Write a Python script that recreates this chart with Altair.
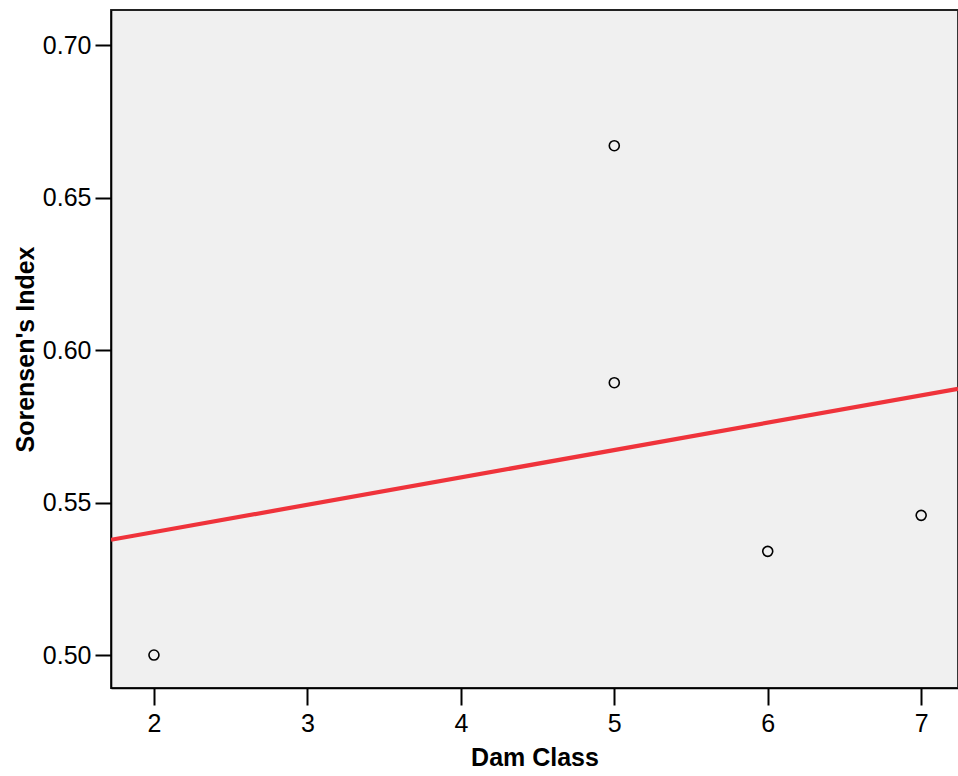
import altair as alt
import pandas as pd

dam_class = [2, 5, 5, 6, 7]
sorensen = [0.500, 0.667, 0.5893, 0.5340, 0.5458]
x_ticks = [2, 3, 4, 5, 6, 7]
y_ticks = [0.50, 0.55, 0.60, 0.65, 0.70]
x_domain = [1.72, 7.24]
y_domain = [0.4892, 0.7115]

df = pd.DataFrame({"dam": dam_class, "sor": sorensen})

FONT = "Liberation Sans"

x_enc = alt.X(
    "dam:Q",
    scale=alt.Scale(domain=x_domain, nice=False, zero=False),
    axis=alt.Axis(
        values=x_ticks, format="d", title="Dam Class", grid=False,
        tickSize=17, tickWidth=2, tickColor="black",
        domainColor="black", domainWidth=1.6,
        labelFontSize=25, labelFont=FONT, labelColor="black", labelPadding=6,
        titleFontSize=25, titleFont=FONT, titleFontWeight="bold", titleColor="black",
        titleBaseline="alphabetic", titleY=77,
    ),
)
y_enc = alt.Y(
    "sor:Q",
    scale=alt.Scale(domain=y_domain, nice=False, zero=False),
    axis=alt.Axis(
        values=y_ticks, format=".2f", title="Sorensen's Index", grid=False,
        tickSize=16, tickWidth=2, tickColor="black",
        domainColor="black", domainWidth=1.6,
        labelFontSize=25, labelFont=FONT, labelColor="black", labelPadding=4,
        titleFontSize=25, titleFont=FONT, titleFontWeight="bold", titleColor="black",
        titleBaseline="alphabetic", titleX=-78, titleAngle=-90,
    ),
)

points = alt.Chart(df).mark_point(
    shape="circle", filled=False, color="black", size=100, strokeWidth=1.6, opacity=1
).encode(x=x_enc, y=y_enc)

fit = alt.Chart(df).transform_regression(
    "dam", "sor", extent=x_domain
).mark_line(color="#ef333b", strokeWidth=4.2, clip=True).encode(
    x=alt.X("dam:Q"), y=alt.Y("sor:Q")
)

chart = alt.layer(fit, points).properties(
    width=847, height=678,
    autosize=alt.AutoSizeParams(type="none"),
    padding={"left": 111, "top": 10, "right": 0, "bottom": 88},
    background="white",
).configure_view(
    fill="#f0f0f0", stroke="#222222", strokeWidth=1.8
)

chart.save("out.html", embed_options={"renderer": "svg", "actions": False})
